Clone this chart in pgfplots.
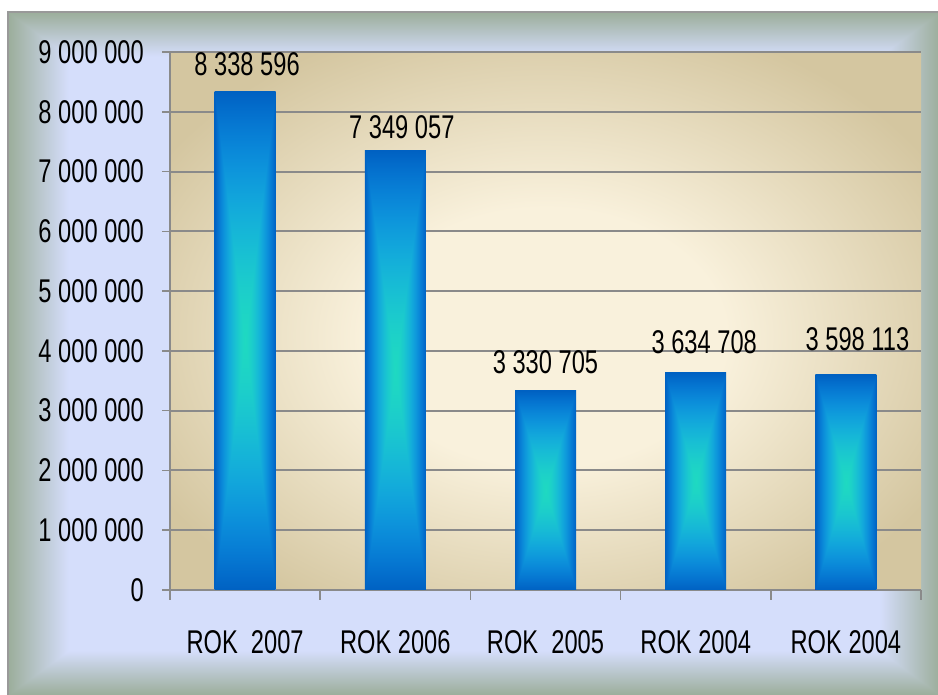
\documentclass[border=0pt]{standalone}
\usepackage{pgfplots}
\pgfplotsset{compat=1.18}
\usepackage{fontspec}
\setmainfont{Liberation Sans}[FakeStretch=0.72]

\definecolor{gridgray}{RGB}{138,138,138}
\definecolor{cream}{RGB}{249,241,220}
\definecolor{tanbg}{RGB}{212,198,160}

% light blue frame with grey-green soft edges
\pgfdeclarefunctionalshading{framesh}{\pgfpointorigin}{\pgfpoint{100bp}{100bp}}{}{
  50 sub 25 div abs exch 50 sub 25 div abs
  2 copy lt {exch} if pop
  0.87 sub 0.13 div
  dup 0 lt {pop 0} if
  dup 1 gt {pop 1} if
  dup dup
  -0.38 mul 0.985 add 3 1 roll
  -0.19 mul 0.87 add 3 1 roll
  -0.225 mul 0.835 add 3 1 roll
}
% bars: rectangular gradient, dark blue rim, cyan centre
\pgfdeclarefunctionalshading{barsh}{\pgfpointorigin}{\pgfpoint{100bp}{100bp}}{}{
  50 sub 25 div abs
  exch 50 sub 25 div abs
  2 copy lt {exch} if pop
  dup 1 gt {pop 1} if
  dup sqrt mul
  dup dup
  dup 1 exch sub mul 0.4 mul 0.76 add 3 1 roll
  -0.47 mul 0.85 add 3 1 roll
  -0.12 mul 0.12 add 3 1 roll
}
% plot area: cream centre, tan rim
\pgfdeclareradialshading{bgsh}{\pgfpoint{0bp}{-2bp}}{%
  color(0bp)=(cream); color(12bp)=(cream); color(30bp)=(tanbg); color(50bp)=(tanbg)}

\begin{document}
\begin{tikzpicture}[x=1bp,y=1bp]
\useasboundingbox (0,0) rectangle (938,695);
\fill[white] (0,0) rectangle (938,695);
\shade[shading=framesh] (8,0) rectangle (940,683);
\draw[gray!80, line width=1.5bp] (8,0) -- (8,683) -- (940,683);
\begin{axis}[
    at={(170bp,105bp)}, anchor=south west,
    scale only axis, width=751bp, height=538bp,
    xmin=0.5, xmax=5.5, ymin=0, ymax=9000000,
    ybar, bar width=61bp, bar shift=0pt,
    clip=false,
    axis background/.style={shade, shading=bgsh},
    axis x line*=bottom, axis y line*=left,
    axis line style={draw=gridgray, line width=2bp, -},
    ymajorgrids,
    major grid style={draw=gridgray, line width=2bp},
    tick align=outside,
    tick style={draw=gridgray, line width=1.5bp},
    major tick length=8bp,
    scaled y ticks=false,
    ytick={0,1000000,2000000,3000000,4000000,5000000,6000000,7000000,8000000,9000000},
    yticklabels={0,1 000 000,2 000 000,3 000 000,4 000 000,5 000 000,6 000 000,7 000 000,8 000 000,9 000 000},
    xtick={0.5,1.5,2.5,3.5,4.5,5.5},
    xticklabels={},
    x tick style={/pgfplots/major tick length=10bp},
    extra x ticks={1,2,3,4,5},
    extra x tick labels={ROK\ \ 2007,ROK 2006,ROK\ \ 2005,ROK 2004,ROK 2004},
    extra x tick style={tick style={draw=none}},
    tick label style={font=\fontsize{33}{36}\selectfont, text=black},
    yticklabel style={inner sep=0pt, xshift=-18bp},
    xticklabel style={anchor=base, inner sep=0pt, yshift=-56bp},
    nodes near coords,
    point meta=explicit symbolic,
    nodes near coords style={anchor=south, inner sep=0pt,
        font=\fontsize{33}{36}\selectfont, text=black},
    every axis plot/.append style={draw=none, shade, shading=barsh},
]
\addplot+[nodes near coords style={xshift=2bp, yshift=16bp}]
    coordinates {(1,8338596) [8 338 596]};
\addplot+[nodes near coords style={xshift=6.5bp, yshift=12bp}]
    coordinates {(2,7349057) [7 349 057]};
\addplot+[nodes near coords style={xshift=0bp, yshift=17bp}]
    coordinates {(3,3330705) [3 330 705]};
\addplot+[nodes near coords style={xshift=8.5bp, yshift=19bp}]
    coordinates {(4,3634708) [3 634 708]};
\addplot+[nodes near coords style={xshift=11.5bp, yshift=24bp}]
    coordinates {(5,3598113) [3 598 113]};
\end{axis}
\end{tikzpicture}
\end{document}
